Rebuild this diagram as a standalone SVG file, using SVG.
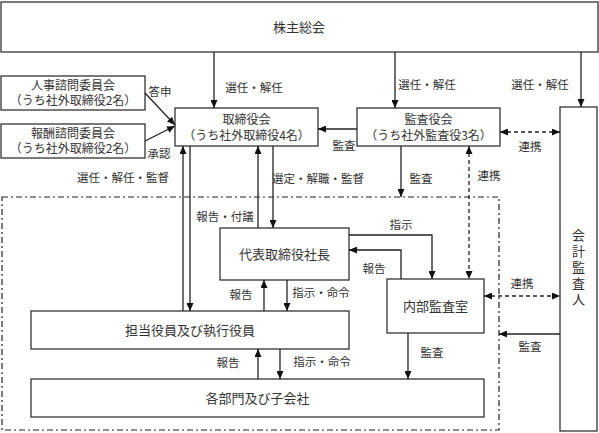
<svg xmlns="http://www.w3.org/2000/svg" width="599" height="433" viewBox="0 0 599 433">
<style>
.box{fill:#fff;stroke:#333;stroke-width:1.3}
.t{font-family:"Noto Sans CJK JP","Liberation Sans",sans-serif;font-size:13px;fill:#333;text-anchor:middle}
.s{font-family:"Noto Sans CJK JP","Liberation Sans",sans-serif;font-size:12px;fill:#333;text-anchor:middle}
.l{font-family:"Noto Sans CJK JP","Liberation Sans",sans-serif;font-size:11.5px;fill:#333;text-anchor:middle}
.v{writing-mode:vertical-rl;letter-spacing:3px}
.c{fill:none;stroke:#222;stroke-width:1.3}
.d{fill:none;stroke:#222;stroke-width:1.3;stroke-dasharray:4 3}
.dd{fill:none;stroke:#222;stroke-width:1.2;stroke-dasharray:6 3 2 3}
</style>
<defs>
<marker id="a" viewBox="0 0 8 7" refX="8" refY="3.5" markerWidth="8" markerHeight="7" markerUnits="userSpaceOnUse" orient="auto-start-reverse">
<path d="M0,0 L8,3.5 L0,7 z" fill="#111"/>
</marker>
</defs>
<rect class="dd" x="2" y="197" width="497" height="233"/>
<g id="shareholders"><rect class="box" x="1" y="2" width="597" height="50"/><text class="t" x="299" y="32">株主総会</text></g>
<g id="jinji"><rect class="box" x="1" y="76" width="144" height="34"/><text class="s" x="73" y="89.5">人事諮問委員会<tspan x="73" dy="15.6">（うち社外取締役2名）</tspan></text></g>
<g id="houshu"><rect class="box" x="1" y="124" width="144" height="34"/><text class="s" x="73" y="137.5">報酬諮問委員会<tspan x="73" dy="15.6">（うち社外取締役2名）</tspan></text></g>
<g id="board"><rect class="box" x="175" y="108" width="143" height="38"/><text class="s" x="246.5" y="124">取締役会<tspan x="246.5" dy="15.6">（うち社外取締役4名）</tspan></text></g>
<g id="auditors"><rect class="box" x="357" y="108" width="143" height="38"/><text class="s" x="428.5" y="124">監査役会<tspan x="428.5" dy="15.6">（うち社外監査役3名）</tspan></text></g>
<g id="accountant"><rect class="box" x="560" y="107" width="37" height="324"/>
<text class="t v" x="578.5" y="269">会計監査人</text></g>
<g id="president"><rect class="box" x="220" y="228" width="129" height="52"/><text class="t" x="284.5" y="258.5">代表取締役社長</text></g>
<g id="internal"><rect class="box" x="387" y="279" width="97" height="54"/><text class="t" x="435.5" y="310.5">内部監査室</text></g>
<g id="officers"><rect class="box" x="31" y="311" width="318" height="38"/><text class="t" x="190" y="334.5">担当役員及び執行役員</text></g>
<g id="depts"><rect class="box" x="31" y="379" width="453" height="38"/><text class="t" x="257.5" y="402.5">各部門及び子会社</text></g>
<g id="connectors">
<path class="c" d="M214,52 V108" marker-end="url(#a)"/>
<path class="c" d="M395,52 V108" marker-end="url(#a)"/>
<path class="c" d="M581,52 V107" marker-end="url(#a)"/>
<path class="c" d="M145,93 L175,125" marker-end="url(#a)"/>
<path class="c" d="M145,141 L175,126" marker-end="url(#a)"/>
<path class="c" d="M357,129 H318" marker-end="url(#a)"/>
<path class="d" d="M500,132 H560" marker-start="url(#a)" marker-end="url(#a)"/>
<path class="c" d="M401,146 V197" marker-end="url(#a)"/>
<path class="d" d="M469,146 V279" marker-start="url(#a)" marker-end="url(#a)"/>
<path class="c" d="M183,311 V146" marker-end="url(#a)"/>
<path class="c" d="M190,146 V311" marker-end="url(#a)"/>
<path class="c" d="M258,228 V146" marker-end="url(#a)"/>
<path class="c" d="M273,146 V228" marker-end="url(#a)"/>
<path class="c" d="M349,235 H432 V279" marker-end="url(#a)"/>
<path class="c" d="M401,279 V250 H349" marker-end="url(#a)"/>
<path class="c" d="M264,311 V280" marker-end="url(#a)"/>
<path class="c" d="M287,280 V311" marker-end="url(#a)"/>
<path class="d" d="M484,296 H560" marker-start="url(#a)" marker-end="url(#a)"/>
<path class="c" d="M560,334 H499" marker-end="url(#a)"/>
<path class="c" d="M258,379 V349" marker-end="url(#a)"/>
<path class="c" d="M280,349 V379" marker-end="url(#a)"/>
<path class="c" d="M408,333 V379" marker-end="url(#a)"/>
</g>
<g id="labels">
<text class="l" x="254" y="92">選任・解任</text>
<text class="l" x="427" y="89">選任・解任</text>
<text class="l" x="540" y="89">選任・解任</text>
<text class="l" x="160" y="96">答申</text>
<text class="l" x="159" y="158">承認</text>
<text class="l" x="344" y="150">監査</text>
<text class="l" x="530" y="151">連携</text>
<text class="l" x="123" y="182">選任・解任・監督</text>
<text class="l" x="318" y="183">選定・解職・監督</text>
<text class="l" x="421" y="183">監査</text>
<text class="l" x="489" y="180">連携</text>
<text class="l" x="225" y="221">報告・付議</text>
<text class="l" x="401" y="229">指示</text>
<text class="l" x="374" y="273">報告</text>
<text class="l" x="241" y="299">報告</text>
<text class="l" x="321" y="297">指示・命令</text>
<text class="l" x="522" y="288">連携</text>
<text class="l" x="530" y="351">監査</text>
<text class="l" x="228" y="367">報告</text>
<text class="l" x="322" y="366">指示・命令</text>
<text class="l" x="432" y="357">監査</text>
</g>
</svg>
